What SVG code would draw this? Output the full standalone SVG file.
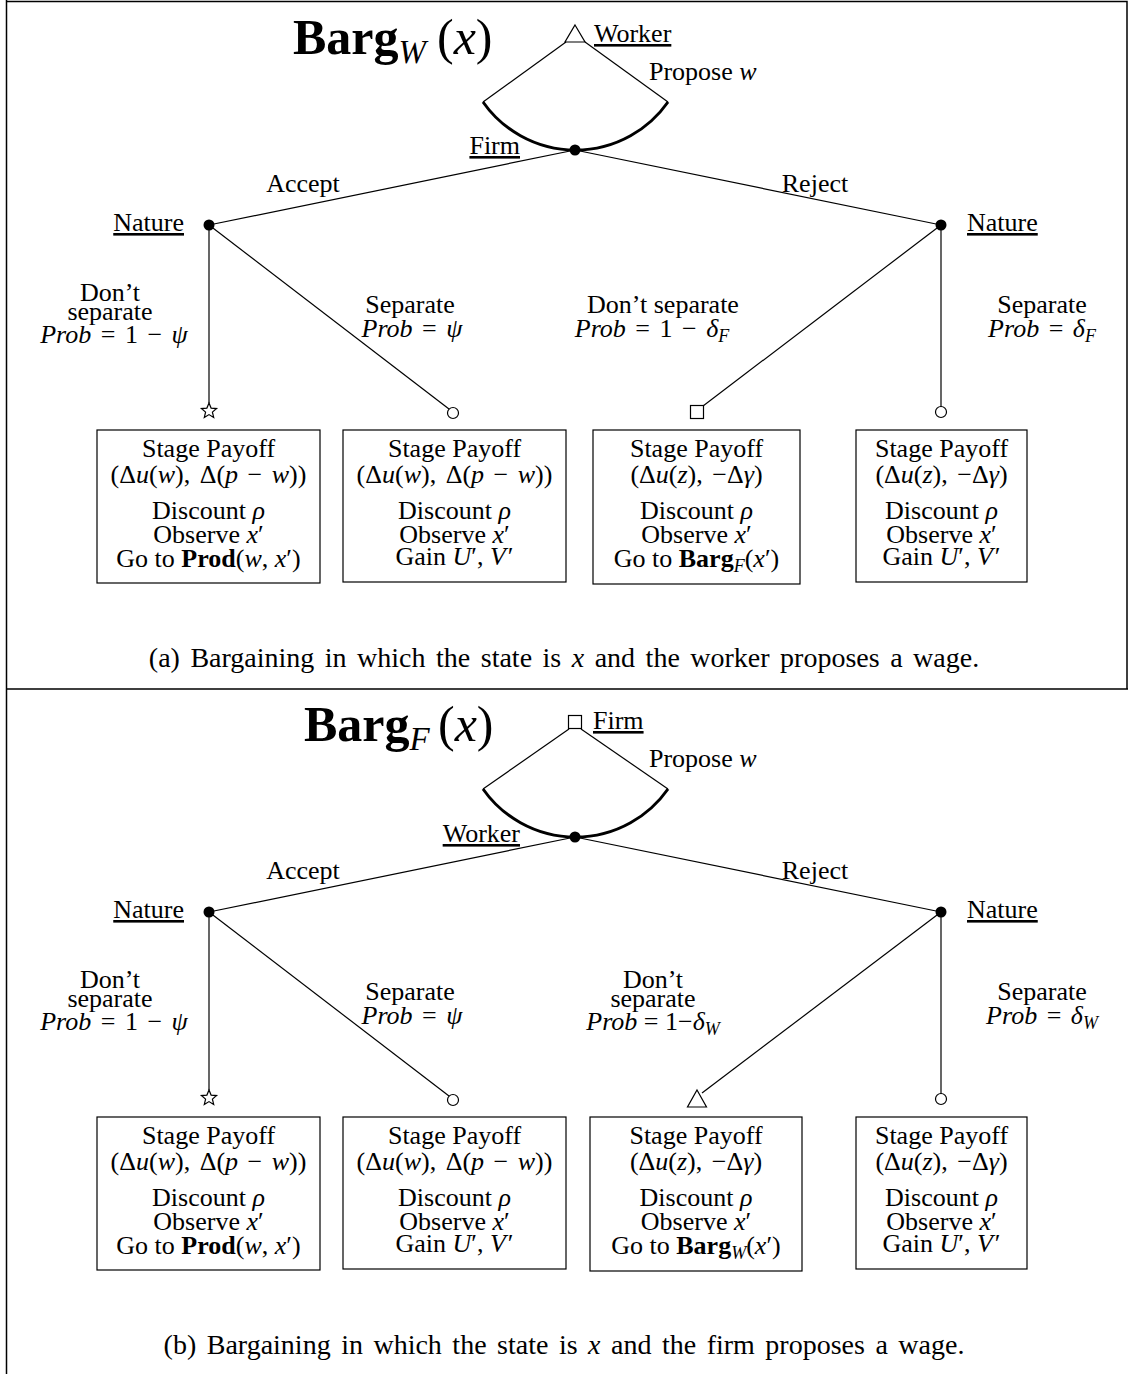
<svg xmlns="http://www.w3.org/2000/svg" width="1128" height="1374" viewBox="0 0 1128 1374">
<style>
.t{font-family:"Liberation Serif","DejaVu Serif",serif;font-size:26px;fill:#000}
.title{font-size:50px}
.cap{font-size:28px;word-spacing:3.5px}
.sp{word-spacing:3px}
.m{text-anchor:middle}
.e{text-anchor:end}
.i{font-style:italic}
.b{font-weight:bold}
.u{text-decoration:underline}
.edge{stroke:#000;stroke-width:1.2;fill:none}
.info{stroke:#000;stroke-width:3;fill:none}
.dec{fill:#000}
.term{fill:#fff;stroke:#000;stroke-width:1.2}
.box{fill:#fff;stroke:#000;stroke-width:1.2}
.frame{stroke:#000;stroke-width:1.5;fill:none}
</style>
<defs>
<path id="star" class="term" d="M0,-8 L2.12,-2.91 L7.61,-2.47 L3.42,1.11 L4.70,6.47 L0,3.6 L-4.70,6.47 L-3.42,1.11 L-7.61,-2.47 L-2.12,-2.91 Z"/>
<circle id="circ" class="term" r="5.5"/>
<rect id="sq" class="term" x="-6.5" y="-6.5" width="13" height="13"/>
<path id="tri" class="term" d="M0,-9 L9.5,8 L-9.5,8 Z"/>
<circle id="dot" class="dec" r="5.5"/>
</defs>
<rect width="1128" height="1374" fill="#fff"/>
<g id="frame">
<path class="frame" d="M6.5,0 V1374 M6.5,1.5 H1127 V689 M6.5,689 H1128"/>
</g>

<!-- ===== Panel (a) ===== -->
<g id="connectors-a">
<line class="edge" x1="566" y1="42" x2="483" y2="102"/>
<line class="edge" x1="585" y1="42" x2="668" y2="102"/>
<path class="info" d="M483,102 A113,113 0 0 0 668,102"/>
<line class="edge" x1="575" y1="150" x2="209" y2="225"/>
<line class="edge" x1="575" y1="150" x2="941" y2="225"/>
<line class="edge" x1="209" y1="225" x2="209" y2="403"/>
<line class="edge" x1="209" y1="225" x2="449" y2="409"/>
<line class="edge" x1="941" y1="225" x2="703" y2="406"/>
<line class="edge" x1="941" y1="225" x2="941" y2="407"/>
</g>
<g id="title-a">
<text class="t title" x="293" y="54"><tspan class="b">Barg</tspan><tspan class="i" font-size="33" dy="9">W</tspan><tspan x="437" dy="-9">(<tspan class="i">x</tspan>)</tspan></text>
</g>
<g id="a-worker">
<path class="term" d="M575,25 L585,42 L565,42 Z"/>
<text class="t u" x="594" y="42">Worker</text>
<text class="t" x="649" y="80">Propose <tspan class="i">w</tspan></text>
</g>
<g id="a-firm">
<use href="#dot" x="575" y="150"/>
<text class="t u e" x="520" y="154">Firm</text>
<text class="t m" x="303" y="192">Accept</text>
<text class="t m" x="815" y="192">Reject</text>
</g>
<g id="a-nature-left">
<use href="#dot" x="209" y="225"/>
<text class="t u e" x="184" y="231">Nature</text>
<text class="t m" x="110" y="301">Don’t</text>
<text class="t m" x="110" y="320">separate</text>
<text class="t m sp" x="114" y="343"><tspan class="i">Prob</tspan> = 1 − <tspan class="i">ψ</tspan></text>
<text class="t m" x="410" y="313">Separate</text>
<text class="t m sp" x="412" y="337"><tspan class="i">Prob</tspan> = <tspan class="i">ψ</tspan></text>
</g>
<g id="a-nature-right">
<use href="#dot" x="941" y="225"/>
<text class="t u" x="967" y="231">Nature</text>
<text class="t m" x="663" y="313">Don’t separate</text>
<text class="t m sp" x="652" y="337"><tspan class="i">Prob</tspan> = 1 − <tspan class="i">δ</tspan><tspan class="i" font-size="18" dy="5">F</tspan></text>
<text class="t m" x="1042" y="313">Separate</text>
<text class="t m sp" x="1042" y="337"><tspan class="i">Prob</tspan> = <tspan class="i">δ</tspan><tspan class="i" font-size="18" dy="5">F</tspan></text>
</g>
<g id="a-box1">
<use href="#star" x="209" y="411"/>
<rect class="box" x="97" y="430" width="223" height="153"/>
<text class="t m" x="208.5" y="457">Stage Payoff</text>
<text class="t m sp" x="208.5" y="483">(Δ<tspan class="i">u</tspan>(<tspan class="i">w</tspan>), Δ(<tspan class="i">p</tspan> − <tspan class="i">w</tspan>))</text>
<text class="t m" x="208.5" y="519">Discount <tspan class="i">ρ</tspan></text>
<text class="t m" x="208.5" y="543">Observe <tspan class="i">x</tspan>′</text>
<text class="t m" x="208.5" y="567">Go to <tspan class="b">Prod</tspan>(<tspan class="i">w</tspan>, <tspan class="i">x</tspan>′)</text>
</g>
<g id="a-box2">
<use href="#circ" x="453" y="413"/>
<rect class="box" x="343" y="430" width="223" height="152"/>
<text class="t m" x="454.5" y="457">Stage Payoff</text>
<text class="t m sp" x="454.5" y="483">(Δ<tspan class="i">u</tspan>(<tspan class="i">w</tspan>), Δ(<tspan class="i">p</tspan> − <tspan class="i">w</tspan>))</text>
<text class="t m" x="454.5" y="519">Discount <tspan class="i">ρ</tspan></text>
<text class="t m" x="454.5" y="543">Observe <tspan class="i">x</tspan>′</text>
<text class="t m" x="454.5" y="565">Gain <tspan class="i">U</tspan>′, <tspan class="i">V</tspan><tspan dx="2">′</tspan></text>
</g>
<g id="a-box3">
<use href="#sq" x="697" y="412"/>
<rect class="box" x="593" y="430" width="207" height="154"/>
<text class="t m" x="696.5" y="457">Stage Payoff</text>
<text class="t m sp" x="696.5" y="483">(Δ<tspan class="i">u</tspan>(<tspan class="i">z</tspan>), −Δ<tspan class="i">γ</tspan>)</text>
<text class="t m" x="696.5" y="519">Discount <tspan class="i">ρ</tspan></text>
<text class="t m" x="696.5" y="543">Observe <tspan class="i">x</tspan>′</text>
<text class="t m" x="696.5" y="567">Go to <tspan class="b">Barg</tspan><tspan class="i" font-size="18" dy="5">F</tspan><tspan dy="-5">(<tspan class="i">x</tspan>′)</tspan></text>
</g>
<g id="a-box4">
<use href="#circ" x="941" y="412"/>
<rect class="box" x="856" y="430" width="171" height="152"/>
<text class="t m" x="941.5" y="457">Stage Payoff</text>
<text class="t m sp" x="941.5" y="483">(Δ<tspan class="i">u</tspan>(<tspan class="i">z</tspan>), −Δ<tspan class="i">γ</tspan>)</text>
<text class="t m" x="941.5" y="519">Discount <tspan class="i">ρ</tspan></text>
<text class="t m" x="941.5" y="543">Observe <tspan class="i">x</tspan>′</text>
<text class="t m" x="941.5" y="565">Gain <tspan class="i">U</tspan>′, <tspan class="i">V</tspan><tspan dx="2">′</tspan></text>
</g>
<g id="caption-a">
<text class="t m cap" x="564" y="667">(a) Bargaining in which the state is <tspan class="i">x</tspan> and the worker proposes a wage.</text>
</g>

<!-- ===== Panel (b) ===== -->
<g id="connectors-b">
<line class="edge" x1="569" y1="729" x2="483" y2="789"/>
<line class="edge" x1="581" y1="729" x2="668" y2="789"/>
<path class="info" d="M483,789 A113,113 0 0 0 668,789"/>
<line class="edge" x1="575" y1="837" x2="209" y2="912"/>
<line class="edge" x1="575" y1="837" x2="941" y2="912"/>
<line class="edge" x1="209" y1="912" x2="209" y2="1090"/>
<line class="edge" x1="209" y1="912" x2="449" y2="1096"/>
<line class="edge" x1="941" y1="912" x2="702" y2="1093"/>
<line class="edge" x1="941" y1="912" x2="941" y2="1094"/>
</g>
<g id="title-b">
<text class="t title" x="304" y="741"><tspan class="b">Barg</tspan><tspan class="i" font-size="33" dy="9">F</tspan><tspan x="438" dy="-9">(<tspan class="i">x</tspan>)</tspan></text>
</g>
<g id="b-firm">
<use href="#sq" x="575" y="722"/>
<text class="t u" x="593" y="729">Firm</text>
<text class="t" x="649" y="767">Propose <tspan class="i">w</tspan></text>
</g>
<g id="b-worker">
<use href="#dot" x="575" y="837"/>
<text class="t u e" x="520" y="842">Worker</text>
<text class="t m" x="303" y="879">Accept</text>
<text class="t m" x="815" y="879">Reject</text>
</g>
<g id="b-nature-left">
<use href="#dot" x="209" y="912"/>
<text class="t u e" x="184" y="918">Nature</text>
<text class="t m" x="110" y="988">Don’t</text>
<text class="t m" x="110" y="1007">separate</text>
<text class="t m sp" x="114" y="1030"><tspan class="i">Prob</tspan> = 1 − <tspan class="i">ψ</tspan></text>
<text class="t m" x="410" y="1000">Separate</text>
<text class="t m sp" x="412" y="1024"><tspan class="i">Prob</tspan> = <tspan class="i">ψ</tspan></text>
</g>
<g id="b-nature-right">
<use href="#dot" x="941" y="912"/>
<text class="t u" x="967" y="918">Nature</text>
<text class="t m" x="653" y="988">Don’t</text>
<text class="t m" x="653" y="1007">separate</text>
<text class="t m" x="653" y="1030"><tspan class="i">Prob</tspan> = 1−<tspan class="i">δ</tspan><tspan class="i" font-size="18" dy="5">W</tspan></text>
<text class="t m" x="1042" y="1000">Separate</text>
<text class="t m sp" x="1042" y="1024"><tspan class="i">Prob</tspan> = <tspan class="i">δ</tspan><tspan class="i" font-size="18" dy="5">W</tspan></text>
</g>
<g id="b-box1">
<use href="#star" x="209" y="1098"/>
<rect class="box" x="97" y="1117" width="223" height="153"/>
<text class="t m" x="208.5" y="1144">Stage Payoff</text>
<text class="t m sp" x="208.5" y="1170">(Δ<tspan class="i">u</tspan>(<tspan class="i">w</tspan>), Δ(<tspan class="i">p</tspan> − <tspan class="i">w</tspan>))</text>
<text class="t m" x="208.5" y="1206">Discount <tspan class="i">ρ</tspan></text>
<text class="t m" x="208.5" y="1230">Observe <tspan class="i">x</tspan>′</text>
<text class="t m" x="208.5" y="1254">Go to <tspan class="b">Prod</tspan>(<tspan class="i">w</tspan>, <tspan class="i">x</tspan>′)</text>
</g>
<g id="b-box2">
<use href="#circ" x="453" y="1100"/>
<rect class="box" x="343" y="1117" width="223" height="152"/>
<text class="t m" x="454.5" y="1144">Stage Payoff</text>
<text class="t m sp" x="454.5" y="1170">(Δ<tspan class="i">u</tspan>(<tspan class="i">w</tspan>), Δ(<tspan class="i">p</tspan> − <tspan class="i">w</tspan>))</text>
<text class="t m" x="454.5" y="1206">Discount <tspan class="i">ρ</tspan></text>
<text class="t m" x="454.5" y="1230">Observe <tspan class="i">x</tspan>′</text>
<text class="t m" x="454.5" y="1252">Gain <tspan class="i">U</tspan>′, <tspan class="i">V</tspan><tspan dx="2">′</tspan></text>
</g>
<g id="b-box3">
<use href="#tri" x="697" y="1099"/>
<rect class="box" x="590" y="1117" width="212" height="154"/>
<text class="t m" x="696" y="1144">Stage Payoff</text>
<text class="t m sp" x="696" y="1170">(Δ<tspan class="i">u</tspan>(<tspan class="i">z</tspan>), −Δ<tspan class="i">γ</tspan>)</text>
<text class="t m" x="696" y="1206">Discount <tspan class="i">ρ</tspan></text>
<text class="t m" x="696" y="1230">Observe <tspan class="i">x</tspan>′</text>
<text class="t m" x="696" y="1254">Go to <tspan class="b">Barg</tspan><tspan class="i" font-size="18" dy="5">W</tspan><tspan dy="-5">(<tspan class="i">x</tspan>′)</tspan></text>
</g>
<g id="b-box4">
<use href="#circ" x="941" y="1099"/>
<rect class="box" x="856" y="1117" width="171" height="152"/>
<text class="t m" x="941.5" y="1144">Stage Payoff</text>
<text class="t m sp" x="941.5" y="1170">(Δ<tspan class="i">u</tspan>(<tspan class="i">z</tspan>), −Δ<tspan class="i">γ</tspan>)</text>
<text class="t m" x="941.5" y="1206">Discount <tspan class="i">ρ</tspan></text>
<text class="t m" x="941.5" y="1230">Observe <tspan class="i">x</tspan>′</text>
<text class="t m" x="941.5" y="1252">Gain <tspan class="i">U</tspan>′, <tspan class="i">V</tspan><tspan dx="2">′</tspan></text>
</g>
<g id="caption-b">
<text class="t m cap" x="564" y="1354">(b) Bargaining in which the state is <tspan class="i">x</tspan> and the firm proposes a wage.</text>
</g>
</svg>
